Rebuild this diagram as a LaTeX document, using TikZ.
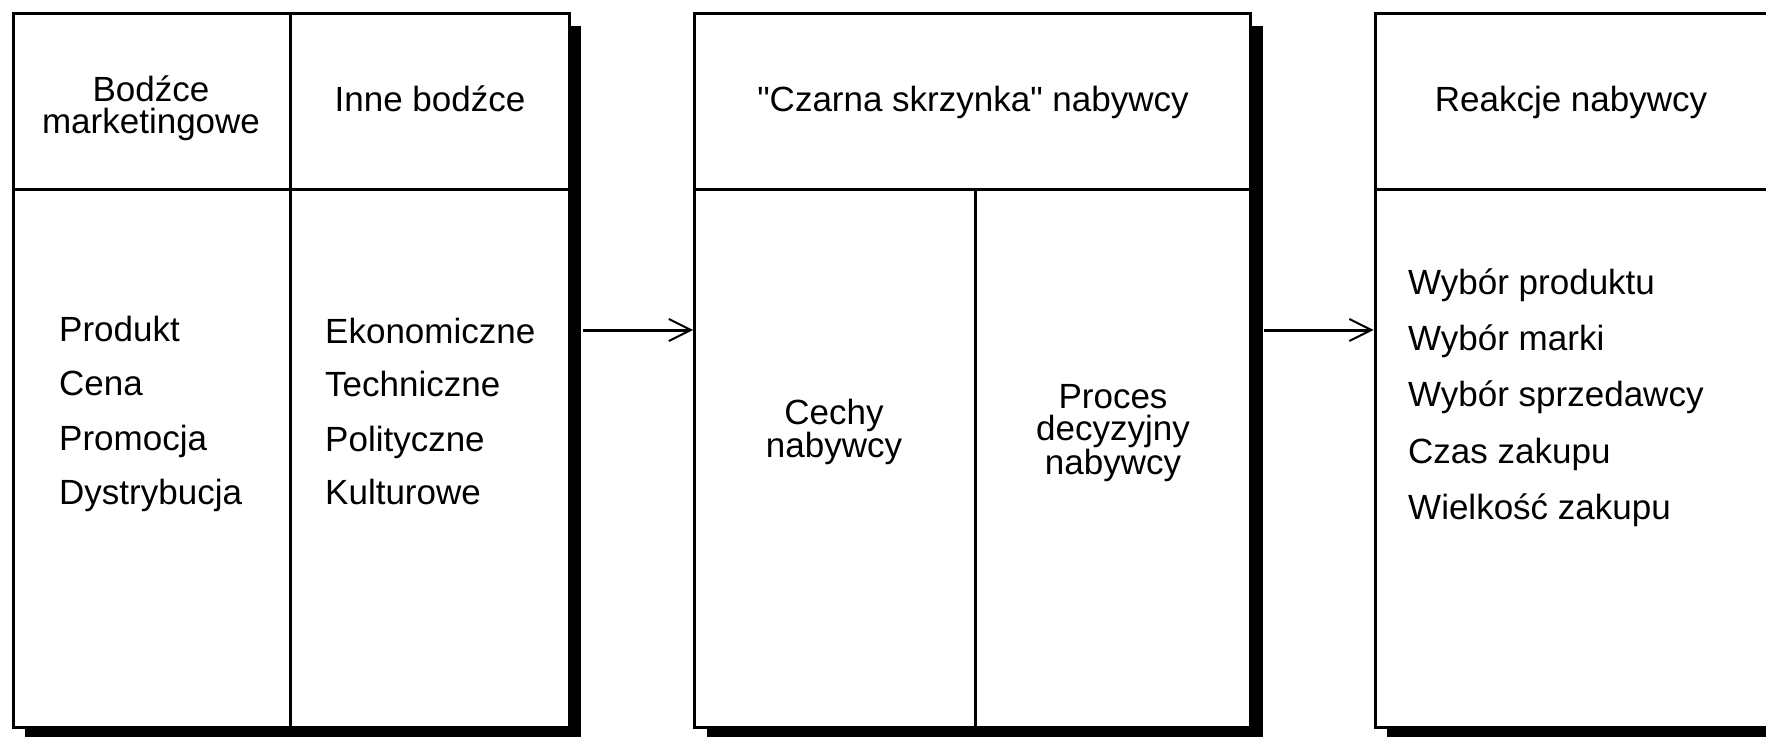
\documentclass[tikz,border=0pt]{standalone}
\usepackage{fontspec}
\setmainfont{Liberation Sans}[Ligatures=TeXOff]
\usetikzlibrary{arrows.meta,shadows,calc}
\begin{document}
\begin{tikzpicture}[x=1pt,y=-1pt,
  box/.style={draw=black, line width=3pt, fill=white, inner sep=0pt,
    minimum width=556pt, minimum height=714pt,
    drop shadow={shadow xshift=12pt, shadow yshift=-13pt, fill=black, opacity=1}},
  divider/.style={draw=black, line width=3pt},
  lbl/.style={font=\fontsize{35}{32}\selectfont, inner sep=0pt, align=center},
  head/.style={font=\fontsize{35}{32}\selectfont, inner sep=0pt, text height=25pt, text depth=0pt},
  item/.style={font=\fontsize{35}{32}\selectfont, inner sep=0pt, anchor=west, text height=25pt, text depth=0pt},
  arr/.style={line width=3pt, -{Straight Barb[length=22pt,width=22pt,line width=2pt]}}
]
\useasboundingbox (0,0) rectangle (1766,736);
\clip (0,0) rectangle (1766,736);
\fill[white] (0,0) rectangle (1766,736);

% boxes
\node[box] (b1) at (291,370) {};
\node[box] (b2) at (972.5,370) {};
\node[box] (b3) at (1653,370) {};

\coordinate (hy) at (0,189);
\coordinate (ay) at (0,330);

% dividers
\draw[divider] (b1.west |- hy) -- (b1.east |- hy);
\draw[divider] (b2.west |- hy) -- (b2.east |- hy);
\draw[divider] (b3.west |- hy) -- (b3.east |- hy);
\draw[divider] (290,0 |- b1.north) -- (290,0 |- b1.south);
\draw[divider] (975,189) -- (975,0 |- b2.south);

% texts box 1
\node[lbl] (t11) at (151,108) {Bodźce\\marketingowe};
\node[head] (t12) at (430,99) {Inne bodźce};
\node[item] (p1) at (59,329) {Produkt};
\node[item] (p2) at (59,383) {Cena};
\node[item] (p3) at (59,438) {Promocja};
\node[item] (p4) at (59,492) {Dystrybucja};
\node[item] (q1) at (325,331) {Ekonomiczne};
\node[item] (q2) at (325,384) {Techniczne};
\node[item] (q3) at (325,439) {Polityczne};
\node[item] (q4) at (325,492) {Kulturowe};

% texts box 2
\node[head] (t21) at (973,99) {"Czarna skrzynka" nabywcy};
\node[lbl] (t22) at (834,432) {Cechy\\nabywcy};
\node[lbl] (t23) at (1113,433) {Proces\\decyzyjny\\nabywcy};

% texts box 3
\node[head] (t31) at (1571,99) {Reakcje nabywcy};
\node[item] (r1) at (1408,282) {Wybór produktu};
\node[item] (r2) at (1408,338) {Wybór marki};
\node[item] (r3) at (1408,394) {Wybór sprzedawcy};
\node[item] (r4) at (1408,451) {Czas zakupu};
\node[item] (r5) at (1408,507) {Wielkość zakupu};

% arrows
\draw[arr] ($(b1.east |- ay)+(12,0)$) -- (b2.west |- ay);
\draw[arr] ($(b2.east |- ay)+(12,0)$) -- (b3.west |- ay);
\end{tikzpicture}
\end{document}
